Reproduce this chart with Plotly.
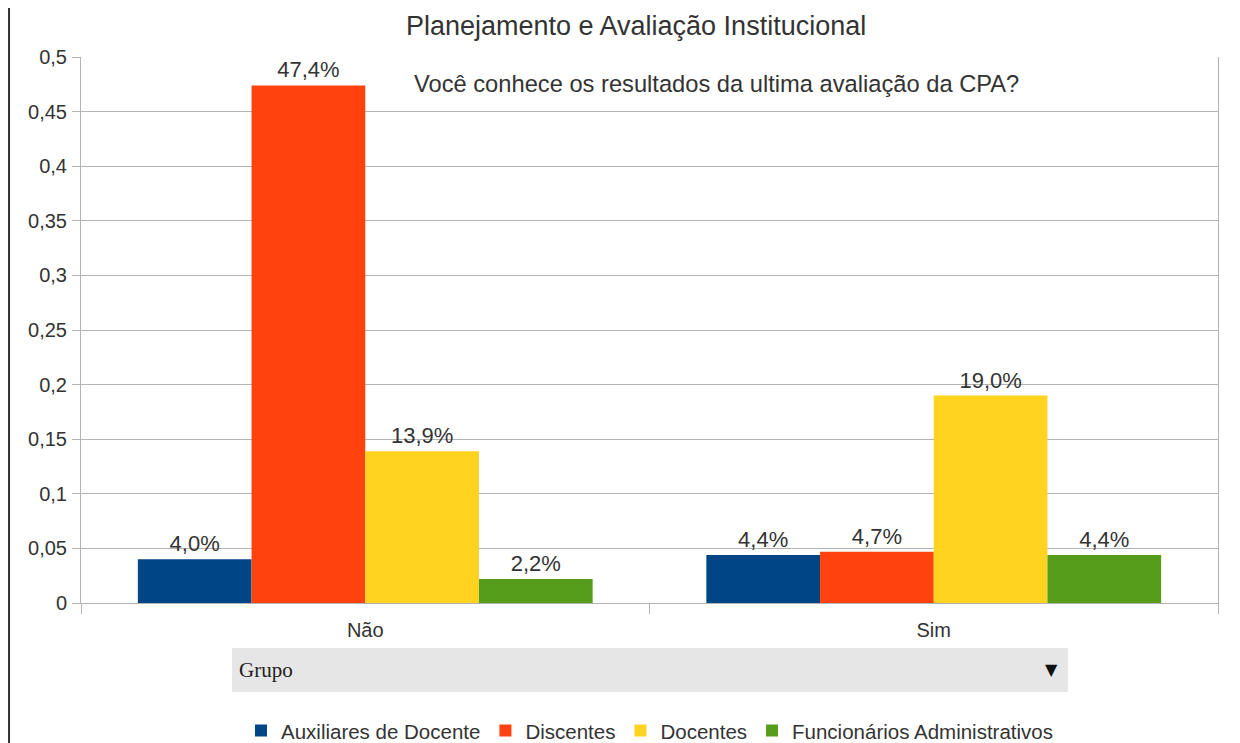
import plotly.graph_objects as go

categories = ["Não", "Sim"]
series_names = ["Auxiliares de Docente", "Discentes", "Docentes", "Funcionários Administrativos"]
auxiliares = [0.040, 0.044]
discentes = [0.474, 0.047]
docentes = [0.139, 0.190]
funcionarios = [0.022, 0.044]
series_values = [auxiliares, discentes, docentes, funcionarios]
colors = ["#004586", "#ff420e", "#ffd320", "#579d1c"]

title_text = "Planejamento e Avaliação Institucional"
subtitle_text = "Você conhece os resultados da ultima avaliação da CPA?"
field_text = "Grupo"

FONT = "Liberation Sans, Arial, sans-serif"
TXT = "#333333"

fig = go.Figure()
for name, vals, col in zip(series_names, series_values, colors):
    fig.add_trace(go.Bar(
        x=categories, y=vals, name=name,
        marker=dict(color=col, line=dict(width=0)),
        texttemplate="%{y:.1%}", textposition="outside",
        textfont=dict(family=FONT, size=22, color=TXT),
        cliponaxis=False, hoverinfo="skip",
    ))

fig.update_layout(
    width=1240, height=743,
    margin=dict(l=73, r=30, t=49, b=148, autoexpand=False),
    paper_bgcolor="white", plot_bgcolor="white",
    separators=",.",
    barmode="group", bargap=0.2, bargroupgap=0,
    font=dict(family=FONT, size=20, color=TXT),
    title=dict(text=title_text, xref="container", x=0.5065, xanchor="center",
               yref="container", y=0.977, yanchor="middle",
               font=dict(family=FONT, size=27, color=TXT)),
    showlegend=True,
    legend=dict(orientation="h", x=0.5, xanchor="center", y=-0.234, yanchor="middle",
                font=dict(family=FONT, size=20.5, color=TXT), bgcolor="rgba(0,0,0,0)",
                itemclick=False, itemdoubleclick=False),
    xaxis=dict(showgrid=False, showline=True, linecolor="#b3b3b3", linewidth=1,
               ticks="outside", ticklen=10, tickcolor="#b3b3b3", tickson="boundaries",
               ticklabelstandoff=9, mirror=False,
               tickfont=dict(family=FONT, size=20, color=TXT)),
    yaxis=dict(range=[0, 0.5], dtick=0.05, showgrid=True, gridcolor="#b3b3b3", gridwidth=1,
               showline=True, linecolor="#b3b3b3", linewidth=1, ticks="outside", ticklen=8,
               tickcolor="#b3b3b3", zeroline=False, mirror=True, ticklabelstandoff=1,
               tickfont=dict(family=FONT, size=20, color=TXT)),
)

fig.add_annotation(text=subtitle_text, xref="paper", yref="paper", x=0.559, y=0.9505,
                   xanchor="center", yanchor="middle", showarrow=False,
                   font=dict(family=FONT, size=23.7, color=TXT))

# field button "Grupo"
fig.add_shape(type="rect", xref="paper", yref="paper", x0=0.1328, x1=0.868, y0=-0.163, y1=-0.0824,
              fillcolor="#e6e6e6", line=dict(width=0), layer="below")
fig.add_annotation(text=field_text, xref="paper", yref="paper", x=0.137, y=-0.1227,
                   xanchor="left", yanchor="middle", showarrow=False,
                   font=dict(family="Liberation Serif, serif", size=21, color="#222222"))
fig.add_annotation(text="▼", xref="paper", yref="paper", x=0.854, y=-0.1227,
                   xanchor="center", yanchor="middle", showarrow=False,
                   font=dict(family="DejaVu Sans", size=16, color="#111111"))

# left frame line
fig.add_shape(type="line", xref="paper", yref="paper", x0=-0.0633, x1=-0.0633, y0=-0.4, y1=1.2,
              line=dict(color="#333333", width=2))

fig.write_html("out.html")
